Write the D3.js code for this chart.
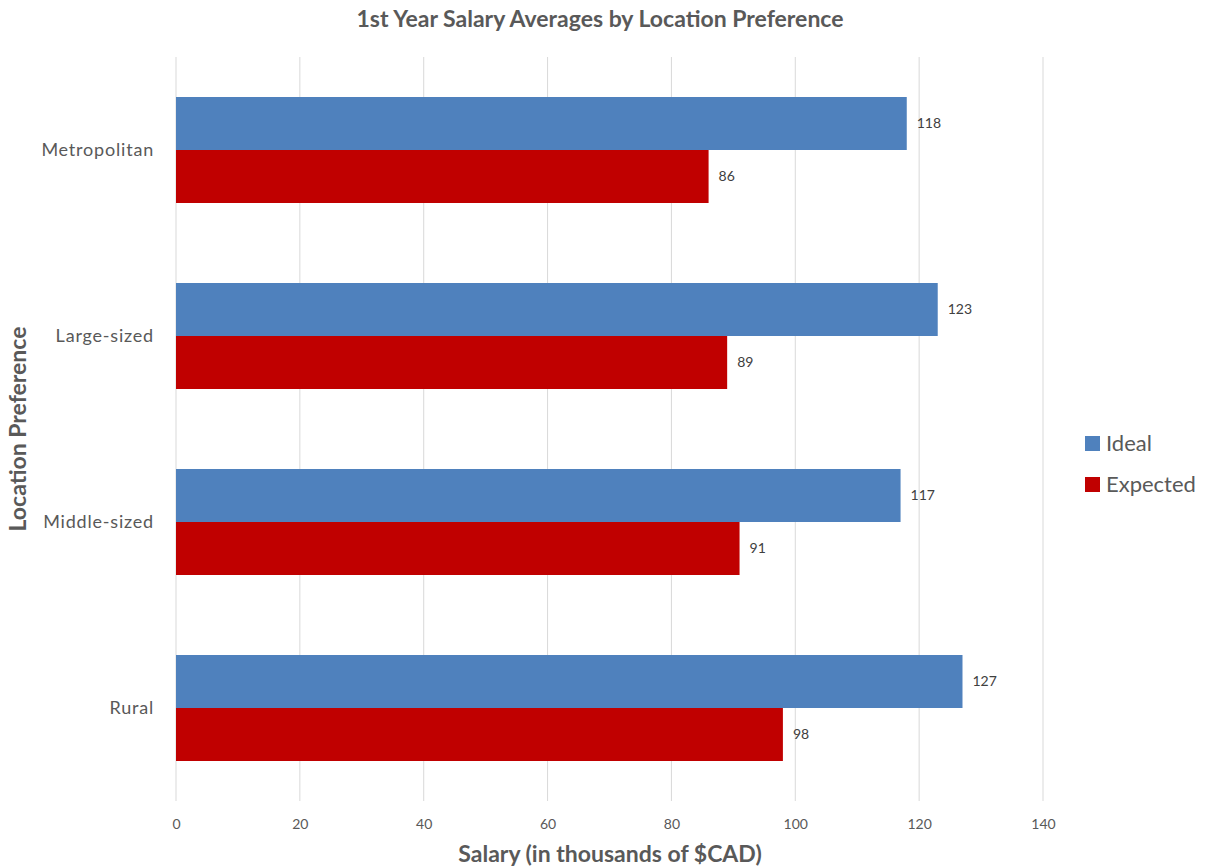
<!DOCTYPE html>
<html>
<head>
<meta charset="utf-8">
<script src="https://cdn.jsdelivr.net/npm/d3@7"></script>
<style>
  html, body { margin: 0; padding: 0; background: #fff; }
  svg { display: block; font-family: Lato, "Open Sans", sans-serif; }
</style>
</head>
<body>
<svg id="chart" width="1209" height="866"></svg>
<script>
// Average first-year salary (thousands of CAD) by preferred location
const categories = ["Metropolitan", "Large-sized", "Middle-sized", "Rural"];
const seriesNames = ["Ideal", "Expected"];
const idealValues = [118, 123, 117, 127];
const expectedValues = [86, 89, 91, 98];
const xTicks = [0, 20, 40, 60, 80, 100, 120, 140];
const seriesColors = ["#4F81BD", "#C00000"];

const svg = d3.select("#chart");
const textColor = "#595959";
const fontStack = "Lato, 'Open Sans', sans-serif";

const plot = { left: 176, right: 1043, top: 57, bottom: 801 };

const x = d3.scaleLinear().domain([0, 140]).range([plot.left, plot.right]);
const y = d3.scaleBand().domain(categories).range([plot.top, plot.bottom]).paddingInner(80 / 186).paddingOuter(40 / 186);
const ySub = d3.scaleBand().domain(seriesNames).range([0, y.bandwidth()]);

// Vertical gridlines
svg.append("g")
  .selectAll("line")
  .data(xTicks)
  .join("line")
  .attr("x1", d => x(d)).attr("x2", d => x(d))
  .attr("y1", plot.top).attr("y2", plot.bottom)
  .attr("stroke", "#d9d9d9").attr("stroke-width", 1);

// X tick labels
const xAxis = d3.axisBottom(x).tickValues(xTicks).tickSize(0).tickPadding(0);
const xg = svg.append("g").attr("transform", `translate(0,${plot.bottom + 28})`).call(xAxis);
xg.select(".domain").remove();
xg.selectAll("text").attr("fill", textColor).style("font-size", "14px").style("font-family", fontStack).attr("dy", 0);

// Y category labels
const yAxis = d3.axisLeft(y).tickSize(0).tickPadding(22);
const yg = svg.append("g").attr("transform", `translate(${plot.left},0)`).call(yAxis);
yg.select(".domain").remove();
yg.selectAll("text").attr("fill", textColor).style("font-size", "18px").style("letter-spacing", "0.8px").style("font-family", fontStack);

// Bars
const rows = categories.map((c, i) => ({ cat: c, values: [idealValues[i], expectedValues[i]] }));
const groups = svg.append("g").selectAll("g")
  .data(rows).join("g")
  .attr("transform", d => `translate(0,${y(d.cat)})`);

groups.selectAll("rect")
  .data(d => d.values.map((v, j) => ({ series: seriesNames[j], value: v, color: seriesColors[j] })))
  .join("rect")
  .attr("x", x(0))
  .attr("y", d => ySub(d.series))
  .attr("width", d => x(d.value) - x(0))
  .attr("height", ySub.bandwidth())
  .attr("fill", d => d.color);

groups.selectAll("text")
  .data(d => d.values.map((v, j) => ({ series: seriesNames[j], value: v })))
  .join("text")
  .attr("x", d => x(d.value) + 10)
  .attr("y", d => ySub(d.series) + ySub.bandwidth() / 2)
  .attr("dy", "0.35em")
  .attr("fill", "#404040")
  .style("font-size", "14px")
  .text(d => d.value);

// Title
svg.append("text")
  .attr("x", 600).attr("y", 27)
  .attr("text-anchor", "middle")
  .attr("fill", textColor)
  .style("font-size", "23px").style("font-weight", "bold")
  .text("1st Year Salary Averages by Location Preference");

// Axis titles
svg.append("text")
  .attr("x", 610).attr("y", 862)
  .attr("text-anchor", "middle")
  .attr("fill", textColor)
  .style("font-size", "23px").style("font-weight", "bold")
  .text("Salary (in thousands of $CAD)");

svg.append("text")
  .attr("transform", "translate(26,429) rotate(-90)")
  .attr("text-anchor", "middle")
  .attr("fill", textColor)
  .style("font-size", "23px").style("font-weight", "bold")
  .text("Location Preference");

// Legend
const legend = svg.append("g").selectAll("g")
  .data(seriesNames).join("g")
  .attr("transform", (d, i) => `translate(1085,${443 + i * 41})`);
legend.append("rect")
  .attr("x", 0).attr("y", -7).attr("width", 15).attr("height", 15)
  .attr("fill", (d, i) => seriesColors[i]);
legend.append("text")
  .attr("x", 21).attr("y", 0).attr("dy", "0.35em")
  .attr("fill", textColor)
  .style("font-size", "22px")
  .text(d => d);
</script>
</body>
</html>
